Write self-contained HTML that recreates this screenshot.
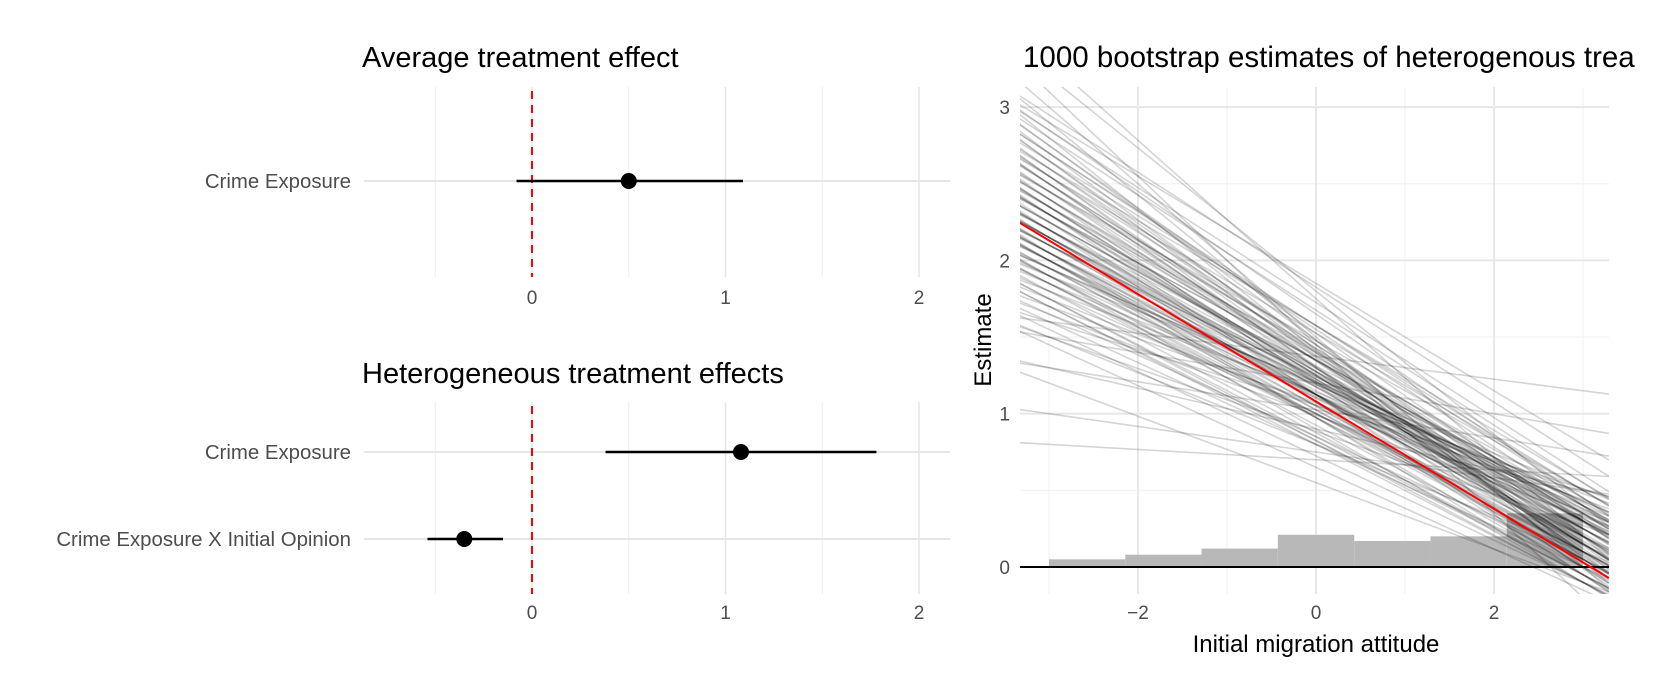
<!DOCTYPE html>
<html><head><meta charset="utf-8">
<style>
html,body{margin:0;padding:0;background:#fff;}
svg{display:block;font-family:"Liberation Sans",Arial,sans-serif;}
</style></head>
<body>
<svg id="chart" width="1654" height="677" viewBox="0 0 1654 677">
<defs><clipPath id="rclip"><rect x="1020" y="87" width="589" height="507"/></clipPath></defs>
<g id="left"></g>
<g id="right"></g>
</svg>
<script>
// ---- left coefficient plots data ----
const ateLabels = ["Crime Exposure"];
const ateEst = [0.50];
const ateLo = [-0.08];
const ateHi = [1.09];
const hteLabels = ["Crime Exposure", "Crime Exposure X Initial Opinion"];
const hteEst = [1.08, -0.35];
const hteLo = [0.38, -0.54];
const hteHi = [1.78, -0.15];
const coefTicks = [0, 1, 2];
const coefMinor = [-0.5, 0.5, 1.5];

// ---- right bootstrap plot data: estimate at x=-3 and x=3 for each bootstrap fit ----
const bootAtMinus3 = [2.1,2.4,1.9,2.6,2.2,1.7,2.8,2.0,2.3,1.5,2.5,2.15,1.95,2.7,2.05,1.8,2.45,2.25,1.6,2.9,2.1,2.35,1.85,2.55,2.0,1.3,2.2,2.65,1.75,2.4,2.05,2.3,1.9,3.0,2.15,1.65,2.5,2.2,1.95,2.75,
 2.25,2.0,2.55,1.8,2.35,2.1,1.7,2.6,2.45,1.95,2.15,2.85,1.55,2.3,2.05,2.5,1.85,2.2,2.7,1.45,2.4,2.1,1.9,2.65,2.0,2.3,1.75,2.95,2.2,1.6,2.05,2.45,1.85,2.35,2.55,1.95,2.15,2.8,1.7,2.25,
 2.0,2.35,2.15,1.9,2.6,2.25,1.8,2.45,2.05,2.7,1.65,2.3,2.1,2.5,1.95,2.2,2.85,1.75,2.4,2.0,2.55,1.85,2.3,2.15,1.5,2.65,2.05,2.35,1.9,2.75,
 0.8,1.6,3.3,1.3,3.1,1.0,2.9,1.5,3.2,1.2];
const bootAt3 = [0.38,-0.01,0.51,0.16,0.22,0.44,0.03,0.35,0.15,0.27,0.12,0.3,0.43,0.09,0.17,0.48,0.1,0.34,0.51,0.06,0.38,0.07,0.4,0.14,0.25,0.5,0.32,0.08,0.36,0.29,0.37,-0.05,0.31,0.0,0.1,0.33,0.32,0.42,0.43,0.21,
 0.3,0.05,0.5,-0.05,0.35,0.15,-0.1,0.55,0.25,0.1,0.0,0.6,-0.1,0.4,0.2,0.3,0.0,0.25,0.45,-0.15,0.2,0.3,0.05,0.5,0.1,0.2,-0.05,0.7,0.15,0.0,0.25,0.4,0.1,0.15,0.35,0.05,0.2,0.55,-0.05,0.3,
 -0.05,0.15,0.35,0.1,0.3,0.0,0.2,0.5,-0.1,0.4,0.05,0.25,0.15,0.1,0.3,-0.05,0.45,-0.1,0.35,0.2,0.05,0.15,0.4,0.25,0.1,0.2,0.05,0.45,-0.1,0.3,
 0.6,1.15,0.2,0.75,-0.2,0.5,0.8,0.9,0.4,-0.1];
const mainIntercept = 1.08;
const mainSlope = -0.35;
const histEdges = [-3, -2.143, -1.286, -0.429, 0.429, 1.286, 2.143, 3];
const histHeights = [0.05, 0.08, 0.12, 0.21, 0.17, 0.20, 0.35];
const rxTicks = [-2, 0, 2];
const rxMinor = [-3, -1, 1, 3];
const ryTicks = [0, 1, 2, 3];
const ryMinor = [0.5, 1.5, 2.5];

const NS = "http://www.w3.org/2000/svg";
function mk(parent, tag, attrs, text){
  const e = document.createElementNS(NS, tag);
  for (const k in attrs) e.setAttribute(k, attrs[k]);
  if (text !== undefined) e.textContent = text;
  parent.appendChild(e);
  return e;
}

// ---------- left panels ----------
const L = document.getElementById('left');
const cx = v => 532 + v * 193.5;
const panelL = 364, panelR = 950;
function coefPanel(title, titleY, top, bottom, rowsY, labels, est, lo, hi, tickY, key){
  const g = mk(L, 'g', {});
  
  
  const t = mk(g, 'text', {x: 362, y: titleY, 'font-size': 29, fill: '#000'}, title);
  
  
  coefMinor.forEach(v => {
    const l = mk(g, 'line', {x1: cx(v), x2: cx(v), y1: top, y2: bottom, stroke: '#f0f0f0', 'stroke-width': 1.2});
    
    
  });
  coefTicks.forEach(v => {
    const l = mk(g, 'line', {x1: cx(v), x2: cx(v), y1: top, y2: bottom, stroke: '#e6e6e6', 'stroke-width': 1.6});
    
    
    const tx = mk(g, 'text', {x: cx(v), y: tickY, 'font-size': 19, fill: '#4d4d4d', 'text-anchor': 'middle'}, String(v));
    
    
  });
  labels.forEach((lab, i) => {
    const y = rowsY[i];
    const gl = mk(g, 'line', {x1: panelL, x2: panelR, y1: y, y2: y, stroke: '#e6e6e6', 'stroke-width': 2});
    
    
    const tx = mk(g, 'text', {x: 351, y: y + 7, 'font-size': 20.4, fill: '#4d4d4d', 'text-anchor': 'end'}, lab);
    
    
  });
  const z = mk(g, 'line', {x1: cx(0), x2: cx(0), y1: top + 4, y2: bottom, stroke: '#ff0000', 'stroke-width': 2, 'stroke-dasharray': '8,6'});
  
  
  labels.forEach((lab, i) => {
    const y = rowsY[i];
    const ci = mk(g, 'line', {x1: cx(lo[i]), x2: cx(hi[i]), y1: y, y2: y, stroke: '#000', 'stroke-width': 2.4});
    
    
    const p = mk(g, 'circle', {cx: cx(est[i]), cy: y, r: 8, fill: '#000'});
    
    
  });
}
coefPanel('Average treatment effect', 67, 87, 277, [181], ateLabels, ateEst, ateLo, ateHi, 304, 'ate');
coefPanel('Heterogeneous treatment effects', 383, 402, 594, [452, 539], hteLabels, hteEst, hteLo, hteHi, 619, 'hte');

// ---------- right panel ----------
const R = document.getElementById('right');
const X0 = 1020, X1 = 1609, Y0 = 87, Y1 = 594;
const rx = v => 1316 + v * 89;
const ry = v => 567 - v * 153.3;
const xmin = -3.33, xmax = 3.29;

const rt = mk(R, 'text', {x: 1023, y: 67, 'font-size': 29.5, fill: '#000'}, '1000 bootstrap estimates of heterogenous trea');



ryMinor.forEach(v => {
  const l = mk(R, 'line', {x1: X0, x2: X1, y1: ry(v), y2: ry(v), stroke: '#f2f2f2', 'stroke-width': 1.2});
  
  
});
rxMinor.forEach(v => {
  const l = mk(R, 'line', {x1: rx(v), x2: rx(v), y1: Y0, y2: Y1, stroke: '#f2f2f2', 'stroke-width': 1.2});
  
  
});
ryTicks.forEach(v => {
  const l = mk(R, 'line', {x1: X0, x2: X1, y1: ry(v), y2: ry(v), stroke: '#e6e6e6', 'stroke-width': 1.8});
  
  
  const t = mk(R, 'text', {x: 1010, y: ry(v) + 7, 'font-size': 19, fill: '#4d4d4d', 'text-anchor': 'end'}, String(v));
  
  
});
rxTicks.forEach(v => {
  const l = mk(R, 'line', {x1: rx(v), x2: rx(v), y1: Y0, y2: Y1, stroke: '#e6e6e6', 'stroke-width': 1.8});
  
  
  const t = mk(R, 'text', {x: rx(v), y: 619, 'font-size': 19, fill: '#4d4d4d', 'text-anchor': 'middle'}, v < 0 ? '\u2212' + Math.abs(v) : String(v));
  
  
});

const plot = mk(R, 'g', {'clip-path': 'url(#rclip)'});



histHeights.forEach((h, i) => {
  const b = mk(plot, 'rect', {x: rx(histEdges[i]), y: ry(h), width: rx(histEdges[i+1]) - rx(histEdges[i]), height: ry(0) - ry(h), fill: '#b8b8b8'});
  
  
});

bootAtMinus3.forEach((a, i) => {
  const b = bootAt3[i];
  const slope = (b - a) / 6, icpt = (a + b) / 2;
  const l = mk(plot, 'line', {x1: rx(xmin), y1: ry(icpt + slope * xmin), x2: rx(xmax), y2: ry(icpt + slope * xmax), stroke: '#000', 'stroke-opacity': 0.17, 'stroke-width': 1.6});
  
  
});

const zl = mk(plot, 'line', {x1: X0, x2: X1, y1: ry(0), y2: ry(0), stroke: '#000', 'stroke-width': 2});



const ml = mk(plot, 'line', {x1: rx(xmin), y1: ry(mainIntercept + mainSlope * xmin), x2: rx(xmax), y2: ry(mainIntercept + mainSlope * xmax), stroke: '#ff0000', 'stroke-width': 2});



const xt = mk(R, 'text', {x: 1316, y: 652, 'font-size': 24, fill: '#000', 'text-anchor': 'middle'}, 'Initial migration attitude');


const yt = mk(R, 'text', {x: 0, y: 0, 'font-size': 24, fill: '#000', 'text-anchor': 'middle', transform: 'translate(991,340) rotate(-90)'}, 'Estimate');


</script>
</body></html>
